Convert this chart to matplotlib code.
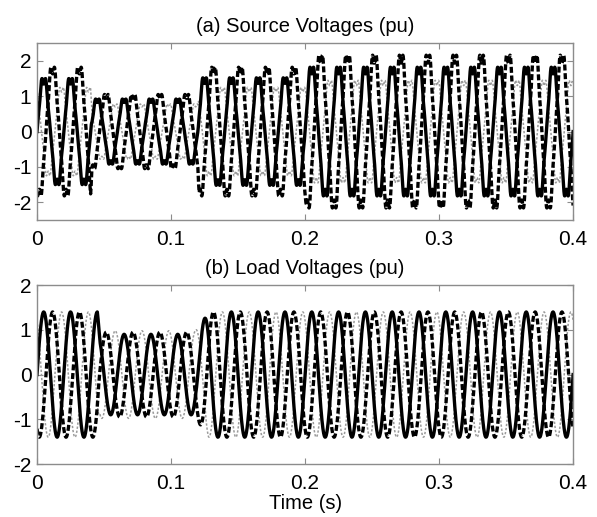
import numpy as np
import matplotlib
matplotlib.use("Agg")
import matplotlib.pyplot as plt

plt.rcParams['font.family'] = ['Liberation Sans', 'DejaVu Sans']
plt.rcParams['axes.unicode_minus'] = False

# ---- data ----
f_hz = 50.0
t_end = 0.4
# phase shifts (deg) for the three phases: solid, dashed, dotted
phase_deg = [0.0, -120.0, 120.0]

# Source voltage: segment breakpoints (s) and peak amplitudes (pu) per phase
src_break = [0.0, 0.040, 0.041, 0.120, 0.121, 0.200, 0.201, 0.4]
src_peak_a = [1.50, 1.50, 0.92, 0.92, 1.52, 1.52, 1.82, 1.82]
src_peak_b = [1.82, 1.82, 1.05, 1.05, 1.82, 1.82, 2.16, 2.16]
src_peak_c = [1.25, 1.25, 0.78, 0.78, 1.25, 1.25, 1.45, 1.45]
# harmonic content of source (fraction of fundamental)
h5_ratio = -0.06
h7_ratio = 0.05

# Load voltage: breakpoints and peak amplitudes per phase
load_break = [0.0, 0.045, 0.047, 0.118, 0.128, 0.4]
load_peak_a = [1.40, 1.40, 0.90, 0.90, 1.40, 1.40]
load_peak_b = [1.40, 1.40, 0.95, 0.95, 1.40, 1.40]
load_peak_c = [1.40, 1.40, 0.98, 0.98, 1.40, 1.40]

xticks = [0, 0.1, 0.2, 0.3, 0.4]
xticklabels = ['0', '0.1', '0.2', '0.3', '0.4']
yticks = [-2, -1, 0, 1, 2]

# ---- build waveforms from the read parameters ----
t = np.linspace(0, t_end, 8001)
w = 2 * np.pi * f_hz


def harmonic_shape(x):
    return np.sin(x) + h5_ratio * np.sin(5 * x) + h7_ratio * np.sin(7 * x)


_norm = np.max(harmonic_shape(np.linspace(0, 2 * np.pi, 4001)))


def src_wave(peaks, ph):
    env = np.interp(t, src_break, peaks)
    x = w * t + np.deg2rad(ph)
    return env / _norm * harmonic_shape(x)


def load_wave(peaks, ph):
    env = np.interp(t, load_break, peaks)
    return env * np.sin(w * t + np.deg2rad(ph))


src = [src_wave(p, ph) for p, ph in zip([src_peak_a, src_peak_b, src_peak_c], phase_deg)]
load = [load_wave(p, ph) for p, ph in zip([load_peak_a, load_peak_b, load_peak_c], phase_deg)]

fig = plt.figure(figsize=(5.97, 5.17), dpi=100)
ax1 = fig.add_axes([0.062, 0.5745, 0.898, 0.342])
ax2 = fig.add_axes([0.062, 0.1025, 0.898, 0.346])

frame_col = '#8c8c8c'


def draw(ax, waves, ylim, title):
    ax.plot(t, waves[2], color='#9a9a9a', lw=1.1, linestyle=(0, (1.5, 1.2)))
    ax.plot(t, waves[0], color='black', lw=2.4, linestyle='-')
    ax.plot(t, waves[1], color='black', lw=2.4, linestyle=(0, (1.8, 0.8)))
    ax.set_xlim(0, t_end)
    ax.set_ylim(*ylim)
    ax.set_xticks(xticks)
    ax.set_xticklabels(xticklabels)
    ax.set_yticks(yticks)
    ax.tick_params(direction='in', length=4, width=0.8, color=frame_col,
                   labelsize=15, top=True, right=True, pad=4)
    ax.tick_params(axis='x', pad=7)
    for s in ax.spines.values():
        s.set_color(frame_col)
        s.set_linewidth(1.0)
    ax.set_title(title, fontsize=14.5, pad=8)


draw(ax1, src, (-2.5, 2.5), '(a) Source Voltages (pu)')
draw(ax2, load, (-2, 2), '(b) Load Voltages (pu)')
ax2.set_xlabel('Time (s)', fontsize=14.5, labelpad=1)

fig.savefig('out.png', dpi=100)
